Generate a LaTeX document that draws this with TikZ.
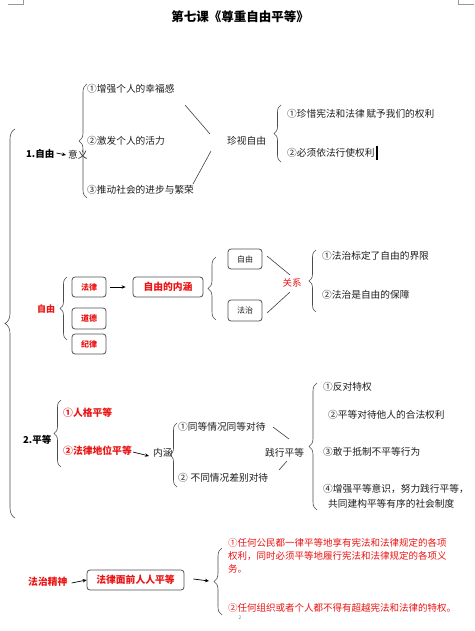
\documentclass[tikz,border=0pt]{standalone}
\usepackage{fontspec}
\setmainfont{Noto Sans CJK SC}
\usetikzlibrary{decorations.pathreplacing,arrows.meta}
\definecolor{myred}{RGB}{235,20,20}
\definecolor{ink}{RGB}{30,30,30}
\definecolor{boxline}{RGB}{80,80,80}
\begin{document}
\begin{tikzpicture}[x=1pt,y=-1pt,
  txt/.style={inner sep=0pt,anchor=west,text=ink,font=\fontsize{9.7}{11}\selectfont},
  btxt/.style={txt,text=black,font=\fontsize{9.5}{11}\selectfont\bfseries},
  rbtxt/.style={txt,text=myred,font=\fontsize{9.8}{11}\selectfont\bfseries},
  rtxt/.style={txt,text=myred,font=\fontsize{9.5}{11}\selectfont},
  rbox/.style={draw=boxline,line width=0.8pt,rounded corners=3pt,inner sep=0pt,minimum width=34pt,minimum height=20pt,text=myred,font=\fontsize{8}{9}\selectfont\bfseries},
  gbox/.style={rbox,text=ink,font=\fontsize{8}{9}\selectfont},
  brc/.style={decorate,decoration={brace,amplitude=#1},draw=black!70,line width=0.6pt},
  brc/.default=8pt,
  ln/.style={draw=black!75,line width=0.6pt},
  arr/.style={draw=black,line width=0.7pt,-{Stealth[length=4pt,width=3.5pt]}}
]
\useasboundingbox (0,0) rectangle (474,631);
% corner marks
\draw[black!40,line width=0.5pt] (8,4) -- (23,4) -- (23,0);
\draw[black!40,line width=0.5pt] (474,4) -- (458,4) -- (458,0);

% title
\node[inner sep=0pt,font=\fontsize{12.5}{14}\selectfont\bfseries] (title) at (240,17) {第七课《尊重自由平等》};

% big left brace
\draw[brc=10pt] (15,518) -- (15,129);

% ===== section 1
\node[btxt] (s1) at (26,154) {1.自由};
\node[txt] (yiyi) at (68,155) {意义};
\draw[arr] ([xshift=2pt,yshift=1pt]s1.east) -- ([xshift=-2pt]yiyi.west);
\draw[brc] (87,198) -- (87,84);
\node[txt] (m1) at (87,89) {①增强个人的幸福感};
\node[txt] (m2) at (87,141) {②激发个人的活力};
\node[txt] (m3) at (87,190) {③推动社会的进步与繁荣};
\coordinate (l1a) at (185,105); \coordinate (l1b) at (210,134);
\coordinate (l2a) at (193,184); \coordinate (l2b) at (211,151);
\draw[ln] (l1a) -- (l1b);
\draw[ln] (l2a) -- (l2b);
\node[txt] (zs) at (227,141) {珍视自由};
\draw[brc=7pt] (281,162) -- (281,105);
\node[txt] (z1) at (287,114) {①珍惜宪法和法律\,赋予我们的权利};
\node[txt] (z2) at (287,153) {②必须依法行使权利};
\draw[black,line width=1.3pt] (377,146) -- (377,160);

% ===== section ziyou (red)
\node[rbtxt,font=\fontsize{9}{11}\selectfont\bfseries] (zy) at (37,309) {自由};
\draw[brc=7pt] (67,340) -- (67,277);
\node[rbox] (fl) at (89,287) {法律};
\node[rbox,minimum height=21pt] (dd) at (89,318.5) {道德};
\node[rbox] (jl) at (89,344) {纪律};
\node[rbox,minimum width=70pt,font=\fontsize{9.8}{11}\selectfont\bfseries] (nh) at (168,287) {自由的内涵};
\draw[arr] ([xshift=4pt]fl.east) -- ([xshift=-7pt]nh.west);
\draw[brc=8pt] (216,320) -- (216,257);
\node[gbox] (b1) at (245,259) {自由};
\node[gbox,minimum height=21pt] (b2) at (245,310.5) {法治};
\node[inner sep=0pt,text=myred,font=\fontsize{9.5}{11}\selectfont] (gx) at (292,283) {关系};
\coordinate (g1a) at (267,256); \coordinate (g1b) at (290,275);
\coordinate (g2a) at (267,313); \coordinate (g2b) at (290,292);
\draw[ln] (g1a) -- (g1b);
\draw[ln] (g2a) -- (g2b);
\draw[brc=7pt] (316,312) -- (316,250);
\node[txt] (r1) at (322,256) {①法治标定了自由的界限};
\node[txt] (r2) at (322,295) {②法治是自由的保障};

% ===== section 2 equality
\node[btxt] (s2) at (23,440) {2.平等};
\draw[brc=7pt] (61,467) -- (61,400);
\node[rbtxt] (p1) at (63,413) {①人格平等};
\node[rbtxt] (p2) at (63,451) {②法律地位平等};
\node[txt] (nh2) at (153,453) {内涵};
\draw[arr] ([xshift=1pt,yshift=-1pt]p2.east) -- ([xshift=-4pt,yshift=-3pt]nh2.west);
\draw[brc=7pt] (177,487) -- (177,423);
\node[txt] (d1) at (178,427) {①同等情况同等对待};
\node[txt] (d2) at (178,478) {②\;不同情况差别对待};
\coordinate (h1a) at (273,427); \coordinate (h1b) at (289,439);
\coordinate (h2a) at (279,470); \coordinate (h2b) at (287,461);
\draw[ln] (h1a) -- (h1b);
\draw[ln] (h2a) -- (h2b);
\node[txt] (jx) at (265,453) {践行平等};
\draw[brc=8pt] (317,510) -- (317,383);
\node[txt] (e1) at (323,387) {①反对特权};
\node[txt] (e2) at (328,415) {②平等对待他人的合法权利};
\node[txt] (e3) at (323,452) {③敢于抵制不平等行为};
\node[txt] (e4) at (323,489) {④增强平等意识，努力践行平等，};
\node[txt] (e5) at (328,504) {共同建构平等有序的社会制度};

% ===== bottom
\node[rbtxt] (fz) at (28,582) {法治精神};
\node[rbox,minimum width=97pt,font=\fontsize{9.8}{11}\selectfont\bfseries] (fm) at (135.5,580) {法律面前人人平等};
\draw[arr] ([xshift=4pt,yshift=-1pt]fz.east) -- (fm.west);
\coordinate (fb) at (209,581);
\draw[arr] ([xshift=9pt,yshift=1pt]fm.east) -- (fb);
\draw[brc=8pt] (222,615) -- (222,548);
\node[rtxt] (t1) at (228,543) {①任何公民都一律平等地享有宪法和法律规定的各项};
\node[rtxt] (t2) at (228,556) {权利，同时必须平等地履行宪法和法律规定的各项义};
\node[rtxt] (t3) at (228,569) {务。};
\node[rtxt] (t4) at (228,608) {②任何组织或者个人都不得有超越宪法和法律的特权。};
\node[inner sep=0pt,text=black!50,font=\fontsize{5}{6}\selectfont] (pg) at (240,618) {2};
\end{tikzpicture}
\end{document}
